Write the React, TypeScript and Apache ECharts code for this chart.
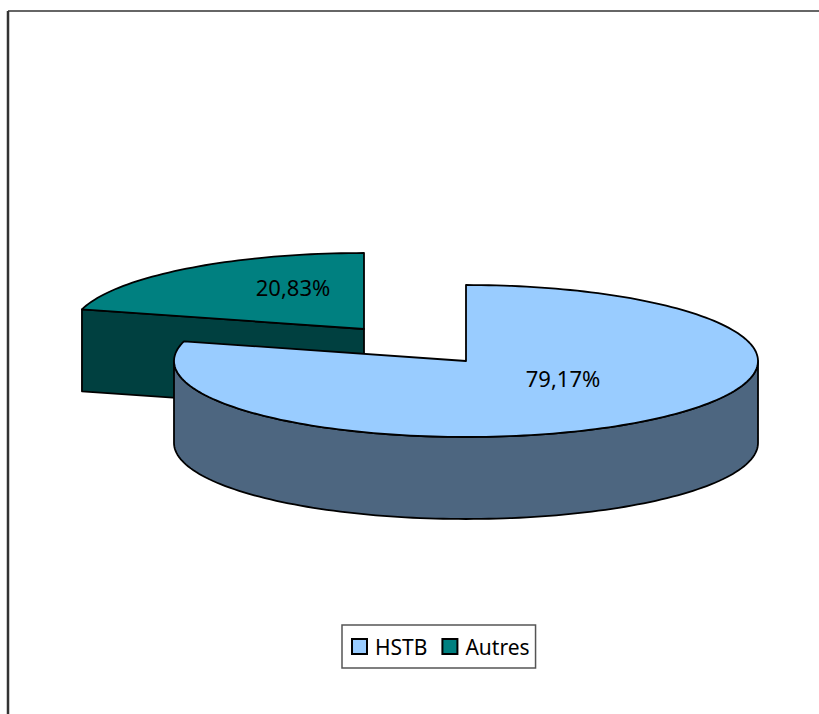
import React, { useEffect, useRef } from "react";
import * as echarts from "echarts";

const categories = ["HSTB", "Autres"];
const shares = [79.17, 20.83];
const topColors = ["#99CCFF", "#008080"];
const wallColors = ["#4D6680", "#004040"];
const FONT = '"Noto Sans", sans-serif';

// Geometry of the tilted disc (px)
const RX = 292;
const RY = 76;
const DEPTH = 82;
const STROKE = "#000";
const centers: [number, number][] = [[466, 361], [364, 329]];
const directions = [1, -1]; // clockwise / counter-clockwise from 12 o'clock
const labelOffsets: [number, number][] = [[97, 17], [-71, -42]];

function rim(cx: number, cy: number, fromDeg: number, toDeg: number, dy = 0) {
  const pts: number[][] = [];
  const n = Math.max(2, Math.ceil(Math.abs(toDeg - fromDeg) / 1.5));
  for (let i = 0; i <= n; i++) {
    const a = ((fromDeg + ((toDeg - fromDeg) * i) / n) * Math.PI) / 180;
    pts.push([cx + RX * Math.sin(a), cy - RY * Math.cos(a) + dy]);
  }
  return pts;
}

function makeRender(idx: number) {
  return (_params: any, api: any) => {
    const value = api.value(0) as number;
    const [cx, cy] = centers[idx];
    const dir = directions[idx];
    const sweep = dir * (value / 100) * 360;
    const topEdge = rim(cx, cy, 0, sweep);
    const end = topEdge[topEdge.length - 1];
    const lineStyle = { stroke: STROKE, lineWidth: 1.8, lineJoin: "round" };
    const children: any[] = [];

    if (dir > 0) {
      // Outer wall: the visible front half of the rim
      const front = rim(cx, cy, 90, 270);
      const frontLow = rim(cx, cy, 90, 270, DEPTH).reverse();
      children.push({
        type: "polygon",
        shape: { points: [...front, ...frontLow] },
        style: { fill: wallColors[idx], ...lineStyle },
      });
    } else {
      // Cut wall: the straight radial face turned towards the viewer
      children.push({
        type: "polygon",
        shape: {
          points: [
            end,
            [cx, cy],
            [cx, cy + DEPTH],
            [end[0], end[1] + DEPTH],
          ],
        },
        style: { fill: wallColors[idx], ...lineStyle },
      });
    }
    children.push({
      type: "polygon",
      shape: { points: [[cx, cy], ...topEdge] },
      style: { fill: topColors[idx], ...lineStyle },
    });
    children.push({
      type: "text",
      style: {
        text: value.toFixed(2).replace(".", ",") + "%",
        x: cx + labelOffsets[idx][0],
        y: cy + labelOffsets[idx][1],
        align: "center",
        verticalAlign: "middle",
        fill: "#000",
        font: `22px ${FONT}`,
      },
    });
    return { type: "group", children };
  };
}

export default function App() {
  const ref = useRef<HTMLDivElement>(null);
  useEffect(() => {
    const chart = echarts.init(ref.current!, undefined, { renderer: "svg" });
    chart.setOption({
      animation: false,
      backgroundColor: "#fff",
      legend: {
        left: 342,
        top: 625,
        orient: "horizontal",
        selectedMode: false,
        data: categories.map((name) => ({ name, icon: "rect" })),
        itemWidth: 15,
        itemHeight: 15,
        itemGap: 14,
        padding: [11, 6, 11, 9],
        borderColor: "#555",
        borderWidth: 1.5,
        backgroundColor: "#fff",
        textStyle: { fontFamily: FONT, fontSize: 21, color: "#000", padding: [0, 0, 0, 3] },
      },
      graphic: [
        { type: "line", shape: { x1: 8, y1: 11, x2: 819, y2: 11 }, style: { stroke: "#333", lineWidth: 1.5 } },
        { type: "line", shape: { x1: 8, y1: 11, x2: 8, y2: 714 }, style: { stroke: "#333", lineWidth: 2.5 } },
      ],
      series: [1, 0].map((i) => ({
        type: "custom",
        name: categories[i],
        coordinateSystem: "none",
        renderItem: makeRender(i),
        data: [[shares[i]]],
        silent: true,
        itemStyle: { color: topColors[i], borderColor: "#000", borderWidth: 1.5 },
      })),
    });
    return () => chart.dispose();
  }, []);
  return <div ref={ref} style={{ position: "absolute", left: 0, top: 0, width: 819, height: 714 }} />;
}
